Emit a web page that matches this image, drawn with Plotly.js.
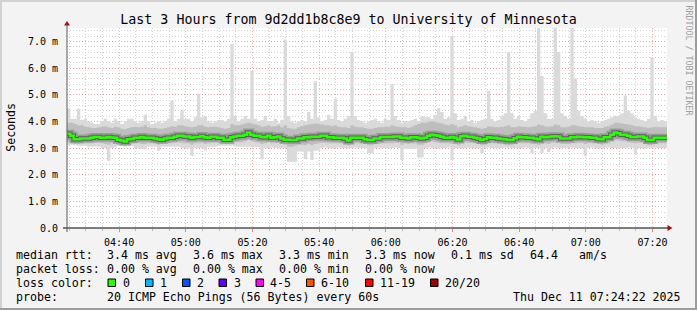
<!DOCTYPE html>
<html><head><meta charset="utf-8">
<script src="https://cdn.plot.ly/plotly-3.0.1.min.js"></script>
<style>html,body{margin:0;padding:0;background:#F3F3F3;}#chart{width:697px;height:310px;}</style>
</head><body><div id="chart"></div>
<script>
// ---- data (ms), one value per minute, 04:24:22 -> 07:24:22 ----
const startTime = Date.UTC(2025, 11, 11, 4, 24, 22);
const stepMs = 60000;

const medianRtt = [
3.53,3.46,3.33,3.33,3.36,3.36,3.36,3.38,3.41,3.41,
3.38,3.38,3.41,3.39,3.38,3.31,3.28,3.24,3.33,3.34,
3.38,3.38,3.41,3.38,3.38,3.38,3.36,3.33,3.31,3.36,
3.38,3.38,3.42,3.46,3.46,3.43,3.43,3.38,3.41,3.41,
3.45,3.40,3.38,3.42,3.42,3.38,3.38,3.31,3.31,3.40,
3.43,3.46,3.46,3.50,3.58,3.50,3.46,3.46,3.41,3.40,
3.46,3.38,3.40,3.43,3.36,3.31,3.31,3.30,3.30,3.36,
3.36,3.40,3.40,3.42,3.42,3.42,3.46,3.46,3.40,3.40,
3.38,3.38,3.38,3.36,3.28,3.38,3.38,3.38,3.38,3.33,
3.30,3.30,3.36,3.36,3.41,3.41,3.41,3.41,3.43,3.43,
3.38,3.38,3.36,3.40,3.40,3.38,3.36,3.38,3.46,3.50,
3.48,3.46,3.42,3.38,3.38,3.41,3.38,3.32,3.44,3.46,
3.42,3.42,3.38,3.36,3.30,3.34,3.40,3.38,3.38,3.36,
3.34,3.33,3.30,3.30,3.37,3.42,3.40,3.40,3.38,3.38,
3.36,3.33,3.42,3.40,3.41,3.43,3.44,3.43,3.36,3.36,
3.36,3.40,3.40,3.42,3.41,3.40,3.40,3.38,3.38,3.34,
3.33,3.40,3.40,3.50,3.58,3.55,3.50,3.50,3.46,3.41,
3.41,3.43,3.43,3.38,3.30,3.30,3.38,3.38,3.38,3.38];

const maxPing = [
4.50,4.10,4.10,4.47,4.05,4.10,4.00,3.95,3.90,3.90,
4.00,4.10,4.00,3.95,4.10,4.00,3.90,4.00,4.10,4.10,
4.00,3.95,4.00,4.25,4.00,3.90,3.95,4.00,3.95,4.00,
4.10,4.78,4.00,4.10,4.43,4.10,4.10,4.00,4.15,5.03,
4.15,4.20,4.00,3.95,4.00,4.05,4.05,4.00,4.10,6.90,
4.20,4.00,4.10,4.20,4.10,5.90,4.10,4.00,4.05,4.20,
4.00,4.00,4.10,3.95,4.05,7.07,4.20,4.00,3.95,4.00,
4.05,4.00,4.35,4.10,5.50,4.15,4.00,4.05,4.25,4.10,
4.85,4.05,4.00,4.10,4.20,6.60,4.20,4.05,4.00,3.95,
4.00,4.05,4.10,4.00,3.95,4.10,4.05,5.40,4.20,4.05,
3.95,4.00,4.00,4.05,4.10,4.00,4.20,4.15,4.15,4.10,
4.25,4.50,4.35,4.10,4.15,7.20,4.30,4.05,4.10,4.20,
4.00,4.05,3.95,4.00,4.05,4.10,5.15,4.10,4.00,4.05,
4.20,4.30,6.60,4.30,4.10,4.20,4.05,4.00,4.10,4.30,
4.40,8.00,5.70,4.30,4.10,4.10,8.00,6.60,4.30,4.20,
4.10,8.00,5.60,4.40,4.20,4.10,4.00,4.05,4.00,3.95,
4.00,4.05,4.10,4.15,4.20,4.20,4.30,4.97,4.40,4.30,
4.15,4.10,4.05,4.00,4.10,6.40,4.20,4.00,4.05,4.00];

const minPing = [
3.10,3.12,3.10,3.08,3.08,3.08,3.05,3.05,3.06,3.05,
3.00,3.00,2.52,3.00,3.02,3.08,3.08,3.06,3.08,3.08,
3.00,3.00,2.97,2.97,3.05,3.05,3.05,2.90,3.05,3.05,
3.05,3.06,3.05,3.05,3.00,3.00,3.00,2.70,3.00,3.00,
3.00,2.92,3.05,3.05,3.05,3.08,3.08,3.08,3.08,3.08,
3.05,3.05,3.05,3.05,3.05,3.03,3.03,3.03,2.58,3.00,
3.00,3.02,3.00,2.98,3.00,3.00,2.48,2.48,2.48,2.87,
2.87,2.58,2.87,2.55,2.90,2.90,3.00,3.02,3.00,2.98,
3.00,3.02,3.00,3.00,2.98,3.00,3.02,3.00,3.00,2.98,
2.80,2.80,3.00,3.02,3.00,3.00,2.98,3.00,3.02,3.00,
2.55,2.97,2.97,2.97,2.97,2.65,2.65,3.00,3.02,3.00,
3.00,2.98,3.00,3.00,3.02,2.55,3.00,3.00,2.98,3.00,
3.02,3.00,3.00,3.00,2.80,3.00,3.02,3.00,2.98,3.00,
3.00,3.02,3.00,3.00,2.98,3.00,3.00,3.02,3.00,2.80,
3.00,3.00,2.80,3.00,2.85,3.00,3.02,3.00,2.98,3.00,
3.00,3.02,3.00,3.00,3.00,2.70,3.00,3.02,3.00,2.98,
3.00,3.00,3.02,3.00,3.00,2.98,3.00,3.00,3.02,3.00,
2.75,3.00,3.00,2.98,3.00,3.00,3.02,3.00,3.00,3.00];

const upperQuartile = [
3.95,3.95,3.90,3.85,3.85,3.80,3.78,3.75,3.75,3.78,
3.80,3.82,3.78,3.75,3.80,3.78,3.72,3.70,3.75,3.78,
3.80,3.78,3.80,3.85,3.78,3.75,3.75,3.72,3.72,3.75,
3.78,3.82,3.80,3.85,3.85,3.82,3.80,3.78,3.80,3.85,
3.85,3.80,3.78,3.80,3.80,3.78,3.75,3.72,3.75,3.90,
3.85,3.85,3.88,3.92,3.95,3.92,3.88,3.85,3.80,3.82,
3.85,3.80,3.82,3.85,3.78,3.85,3.75,3.72,3.72,3.78,
3.82,3.85,3.88,3.90,3.92,3.90,3.88,3.85,3.85,3.82,
3.85,3.80,3.78,3.78,3.75,3.85,3.80,3.78,3.78,3.75,
3.72,3.72,3.75,3.78,3.78,3.80,3.80,3.85,3.82,3.80,
3.78,3.78,3.75,3.80,3.85,3.90,3.95,3.95,3.98,4.00,
3.98,3.95,3.92,3.88,3.85,3.90,3.85,3.78,3.82,3.85,
3.82,3.80,3.78,3.75,3.72,3.75,3.82,3.80,3.78,3.78,
3.80,3.82,3.85,3.78,3.78,3.82,3.80,3.80,3.78,3.80,
3.82,3.88,3.85,3.82,3.80,3.82,3.88,3.85,3.78,3.78,
3.80,3.85,3.85,3.82,3.80,3.78,3.78,3.78,3.75,3.75,
3.75,3.80,3.82,3.88,3.95,3.95,3.92,3.90,3.88,3.85,
3.82,3.82,3.80,3.78,3.75,3.78,3.80,3.78,3.78,3.78];

const lowerQuartile = [
3.22,3.20,3.15,3.15,3.18,3.18,3.17,3.18,3.20,3.20,
3.18,3.15,3.12,3.18,3.18,3.15,3.12,3.10,3.15,3.18,
3.18,3.18,3.15,3.15,3.18,3.18,3.18,3.12,3.15,3.18,
3.18,3.18,3.20,3.22,3.20,3.18,3.18,3.12,3.18,3.18,
3.20,3.15,3.18,3.20,3.20,3.18,3.18,3.15,3.15,3.20,
3.22,3.22,3.22,3.25,3.30,3.25,3.22,3.20,3.15,3.18,
3.22,3.18,3.18,3.20,3.15,3.12,3.05,3.05,3.08,3.12,
3.12,3.10,3.15,3.10,3.15,3.18,3.20,3.20,3.18,3.18,
3.18,3.18,3.18,3.15,3.10,3.18,3.18,3.18,3.18,3.15,
3.10,3.10,3.15,3.15,3.18,3.18,3.18,3.18,3.20,3.20,
3.12,3.18,3.15,3.18,3.18,3.12,3.12,3.18,3.22,3.25,
3.22,3.20,3.18,3.18,3.18,3.15,3.15,3.10,3.20,3.22,
3.20,3.20,3.18,3.15,3.10,3.12,3.18,3.18,3.18,3.15,
3.15,3.12,3.10,3.10,3.15,3.20,3.18,3.18,3.18,3.15,
3.15,3.12,3.15,3.18,3.15,3.20,3.20,3.20,3.15,3.15,
3.15,3.18,3.18,3.20,3.20,3.15,3.18,3.18,3.18,3.15,
3.12,3.18,3.18,3.25,3.30,3.28,3.25,3.25,3.22,3.20,
3.18,3.20,3.20,3.15,3.10,3.10,3.18,3.18,3.18,3.18];

const yTickValues = [0,1,2,3,4,5,6,7];
const yTickLabels = ['0.0','1.0 m','2.0 m','3.0 m','4.0 m','5.0 m','6.0 m','7.0 m'];

const titleText = 'Last 3 Hours from 9d2dd1b8c8e9 to University of Minnesota';
const yTitle = 'Seconds';
const rttLabel = 'median rtt:';
const rttStats = ['3.4 ms avg','3.6 ms max','3.3 ms min','3.3 ms now','0.1 ms sd','64.4','am/s'];
const lossLabel = 'packet loss:';
const lossStats = ['0.00 % avg','0.00 % max','0.00 % min','0.00 % now'];
const lossColorLabel = 'loss color:';
const lossLabels = ['0','1','2','3','4-5','6-10','11-19','20/20'];
const lossColors = ['#26ff00','#00b8ff','#0059ff','#5e00ff','#ff00f0','#ff5500','#ff0000','#a00000'];
const probeLabel = 'probe:';
const probeText = '20 ICMP Echo Pings (56 Bytes) every 60s';
const dateText = 'Thu Dec 11 07:24:22 2025';
const watermark = 'RRDTOOL / TOBI OETIKER';

// ---- geometry helpers (pixel -> paper) ----
const PL = 67, PR = 667, PT = 28, PB = 228;
const px = x => (x - PL) / (PR - PL);
const py = y => (PB - y) / (PB - PT);

const times = medianRtt.map((_, i) => startTime + i * stepMs);
const endTime = startTime + medianRtt.length * stepMs;
const xs = times.concat([endTime]);
const ext = a => a.concat([a[a.length - 1]]);

const mono = 'DejaVu Sans Mono, monospace';
const base = {x: xs, mode: 'lines', hoverinfo: 'skip', showlegend: false};
const traces = [
  Object.assign({}, base, {y: ext(minPing), line: {width: 0, shape: 'hv'}}),
  Object.assign({}, base, {y: ext(maxPing), line: {width: 0, shape: 'hv'}, fill: 'tonexty', fillcolor: '#DADADA'}),
  Object.assign({}, base, {y: ext(lowerQuartile), line: {width: 0, shape: 'hv'}}),
  Object.assign({}, base, {y: ext(upperQuartile), line: {width: 0, shape: 'hv'}, fill: 'tonexty', fillcolor: '#BEBEBE'}),
  Object.assign({}, base, {y: ext(medianRtt), line: {width: 8, shape: 'hv', color: '#9A9A9A'}}),
  Object.assign({}, base, {y: ext(medianRtt), line: {width: 4.5, shape: 'hv', color: '#5E5E5E'}}),
  Object.assign({}, base, {y: ext(medianRtt), line: {width: 2.5, shape: 'hv', color: lossColors[0]}})
];

const ann = [];
function txt(text, x, y, opts) {
  ann.push(Object.assign({text: text, x: px(x), y: py(y), xref: 'paper', yref: 'paper',
    showarrow: false, xanchor: 'left', yanchor: 'middle', borderpad: 0, borderwidth: 0,
    font: {family: mono, size: 11.6, color: '#000'}}, opts || {}));
}
const L1 = 254.5, L2 = 268.7, L3 = 282.9, L4 = 297.1;
txt(rttLabel, 15.5, L1);
const rttX = [106.5, 192.5, 278.5, 364.5, 450.5, 529.5, 578.5];
rttStats.forEach((s, i) => txt(s, rttX[i], L1));
txt(lossLabel, 15.5, L2);
lossStats.forEach((s, i) => txt(s, rttX[i], L2));
txt(lossColorLabel, 15.5, L3);
const boxX = [108, 145.5, 182.5, 219, 256, 306.5, 365.5, 430.5];
const labX = [122.5, 160, 197, 233.5, 270, 321, 380, 444.5];
lossLabels.forEach((s, i) => txt(s, labX[i], L3));
txt(probeLabel, 15.5, L4);
txt(probeText, 106.5, L4);
txt(dateText, 680.5, L4, {xanchor: 'right'});
txt(yTitle, 10.3, 127.5, {textangle: -90, xanchor: 'center'});
txt(watermark, 688.5, 60, {textangle: 90, xanchor: 'center', font: {family: mono, size: 8.3, color: '#9E9E9E'}});

const shapes = [];
lossColors.forEach((c, i) => shapes.push({type: 'rect', xref: 'paper', yref: 'paper',
  x0: px(boxX[i]), x1: px(boxX[i] + 7.5), y0: py(279), y1: py(286.5),
  fillcolor: c, line: {color: '#000', width: 1}}));
// axes
shapes.push({type: 'line', xref: 'paper', yref: 'paper', x0: px(63), x1: px(668), y0: 0, y1: 0, line: {color: '#000', width: 1}});
shapes.push({type: 'line', xref: 'paper', yref: 'paper', x0: 0, x1: 0, y0: py(232), y1: py(25), line: {color: '#5A5A5A', width: 1}});
shapes.push({type: 'path', xref: 'paper', yref: 'paper', path:
  'M ' + px(64) + ',' + py(25.5) + ' L ' + px(70) + ',' + py(25.5) + ' L ' + px(67) + ',' + py(21) + ' Z',
  fillcolor: '#9B1515', line: {width: 0}});
shapes.push({type: 'path', xref: 'paper', yref: 'paper', path:
  'M ' + px(667.5) + ',' + py(225) + ' L ' + px(667.5) + ',' + py(231) + ' L ' + px(672.5) + ',' + py(228) + ' Z',
  fillcolor: '#9B1515', line: {width: 0}});
// frame
shapes.push({type: 'line', xref: 'paper', yref: 'paper', x0: px(0), x1: px(697), y0: py(1), y1: py(1), line: {color: '#D2D2D2', width: 2}});
shapes.push({type: 'line', xref: 'paper', yref: 'paper', x0: px(1), x1: px(1), y0: py(0), y1: py(310), line: {color: '#D2D2D2', width: 2}});
shapes.push({type: 'line', xref: 'paper', yref: 'paper', x0: px(0), x1: px(697), y0: py(309), y1: py(309), line: {color: '#9C9C9C', width: 2}});
shapes.push({type: 'line', xref: 'paper', yref: 'paper', x0: px(696), x1: px(696), y0: py(0), y1: py(310), line: {color: '#9C9C9C', width: 2}});

const majorGrid = 'rgba(240,120,120,0.55)';
const minorGrid = '#D0D0D0';
const layout = {
  width: 697, height: 310,
  margin: {l: PL, r: 697 - PR, t: PT, b: 310 - PB, pad: 0},
  paper_bgcolor: '#F3F3F3', plot_bgcolor: '#FFFFFF',
  showlegend: false,
  title: {text: titleText, x: 0.5, xref: 'container', xanchor: 'center',
    y: 1 - 19 / 310, yref: 'container', yanchor: 'middle',
    font: {family: mono, size: 13.3, color: '#000'}},
  xaxis: {type: 'date', range: [startTime, endTime], tickformat: '%H:%M',
    tick0: Date.UTC(2025, 11, 11, 4, 40, 0), dtick: 1200000,
    showgrid: true, gridcolor: majorGrid, griddash: '1px,2px', gridwidth: 1,
    ticks: 'outside', ticklen: 3, tickcolor: '#F08080', tickwidth: 1,
    minor: {tick0: Date.UTC(2025, 11, 11, 4, 40, 0), dtick: 300000, showgrid: true,
      gridcolor: minorGrid, griddash: '1px,2px', gridwidth: 1, ticks: 'outside', ticklen: 2, tickcolor: '#BBBBBB'},
    showline: false, zeroline: false, ticklabelstandoff: 2,
    tickfont: {family: mono, size: 10, color: '#000'}},
  yaxis: {range: [0, 7.5], tickvals: yTickValues, ticktext: yTickLabels,
    showgrid: true, gridcolor: majorGrid, griddash: '1px,2px', gridwidth: 1,
    minor: {dtick: 0.2, tick0: 0, showgrid: true, gridcolor: minorGrid, griddash: '1px,2px', gridwidth: 1},
    ticks: '', showline: false, zeroline: false, ticklabelstandoff: 8,
    tickfont: {family: mono, size: 10, color: '#000'}},
  annotations: ann,
  shapes: shapes
};
Plotly.newPlot('chart', traces, layout, {staticPlot: true, displayModeBar: false});
</script></body></html>
